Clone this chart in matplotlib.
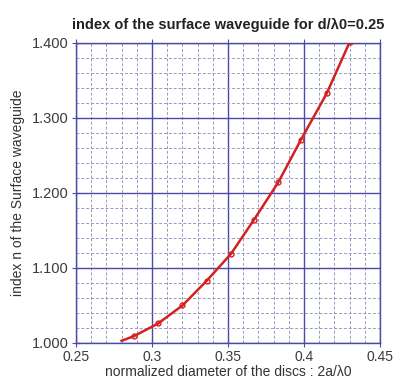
import matplotlib
matplotlib.use("Agg")
import matplotlib.pyplot as plt
from matplotlib.ticker import MultipleLocator, FormatStrFormatter
import numpy as np

plt.rcParams["font.family"] = ["Liberation Sans", "DejaVu Sans"]

# data
diam = [0.280, 0.288, 0.304, 0.320, 0.336, 0.352, 0.367, 0.383, 0.398, 0.415, 0.430]
index_n = [1.003, 1.009, 1.026, 1.050, 1.083, 1.119, 1.164, 1.214, 1.271, 1.333, 1.401]
xticks = [0.25, 0.3, 0.35, 0.4, 0.45]
xticklabels = ["0.25", "0.3", "0.35", "0.4", "0.45"]

blue = "#4a4aa8"
red = "#d42020"

fig = plt.figure(figsize=(3.95, 3.87), dpi=100)
ax = fig.add_axes([0.1924, 0.1137, 0.7696, 0.7752])

ax.plot(diam, index_n, color=red, lw=1.8, zorder=3)
ax.plot(diam[1:], index_n[1:], ls="none", marker="o", ms=3.5, mfc="none",
        mec=red, mew=1.0, zorder=4)

ax.set_xlim(0.25, 0.45)
ax.set_ylim(1.0, 1.4)
ax.set_xticks(xticks)
ax.set_xticklabels(xticklabels)
ax.yaxis.set_major_locator(MultipleLocator(0.1))
ax.yaxis.set_major_formatter(FormatStrFormatter("%.3f"))
ax.xaxis.set_minor_locator(MultipleLocator(0.01))
ax.yaxis.set_minor_locator(MultipleLocator(0.02))

ax.grid(which="major", color=blue, lw=1.0, ls="-")
ax.grid(which="minor", color="#9898c8", lw=0.7, ls=(0, (3, 2)))
ax.set_axisbelow(True)

for s in ax.spines.values():
    s.set_color(blue)
    s.set_linewidth(1.0)

ax.tick_params(which="major", direction="inout", length=6, color=blue,
               labelsize=10.5, labelcolor="#3a3a3a", top=True, right=False,
               pad=2)
ax.tick_params(axis="x", labelsize=10)
ax.tick_params(which="minor", length=0)

ax.set_xlabel("normalized diameter of the discs : 2a/λ0", fontsize=10,
              color="#333333", labelpad=1)
ax.set_ylabel("index n of the Surface waveguide", fontsize=10,
              color="#333333", labelpad=5)
ax.set_title("index of the surface waveguide for d/λ0=0.25", fontsize=10.5,
             fontweight="bold", color="#222222", pad=10)

fig.savefig("out.png", dpi=100)
